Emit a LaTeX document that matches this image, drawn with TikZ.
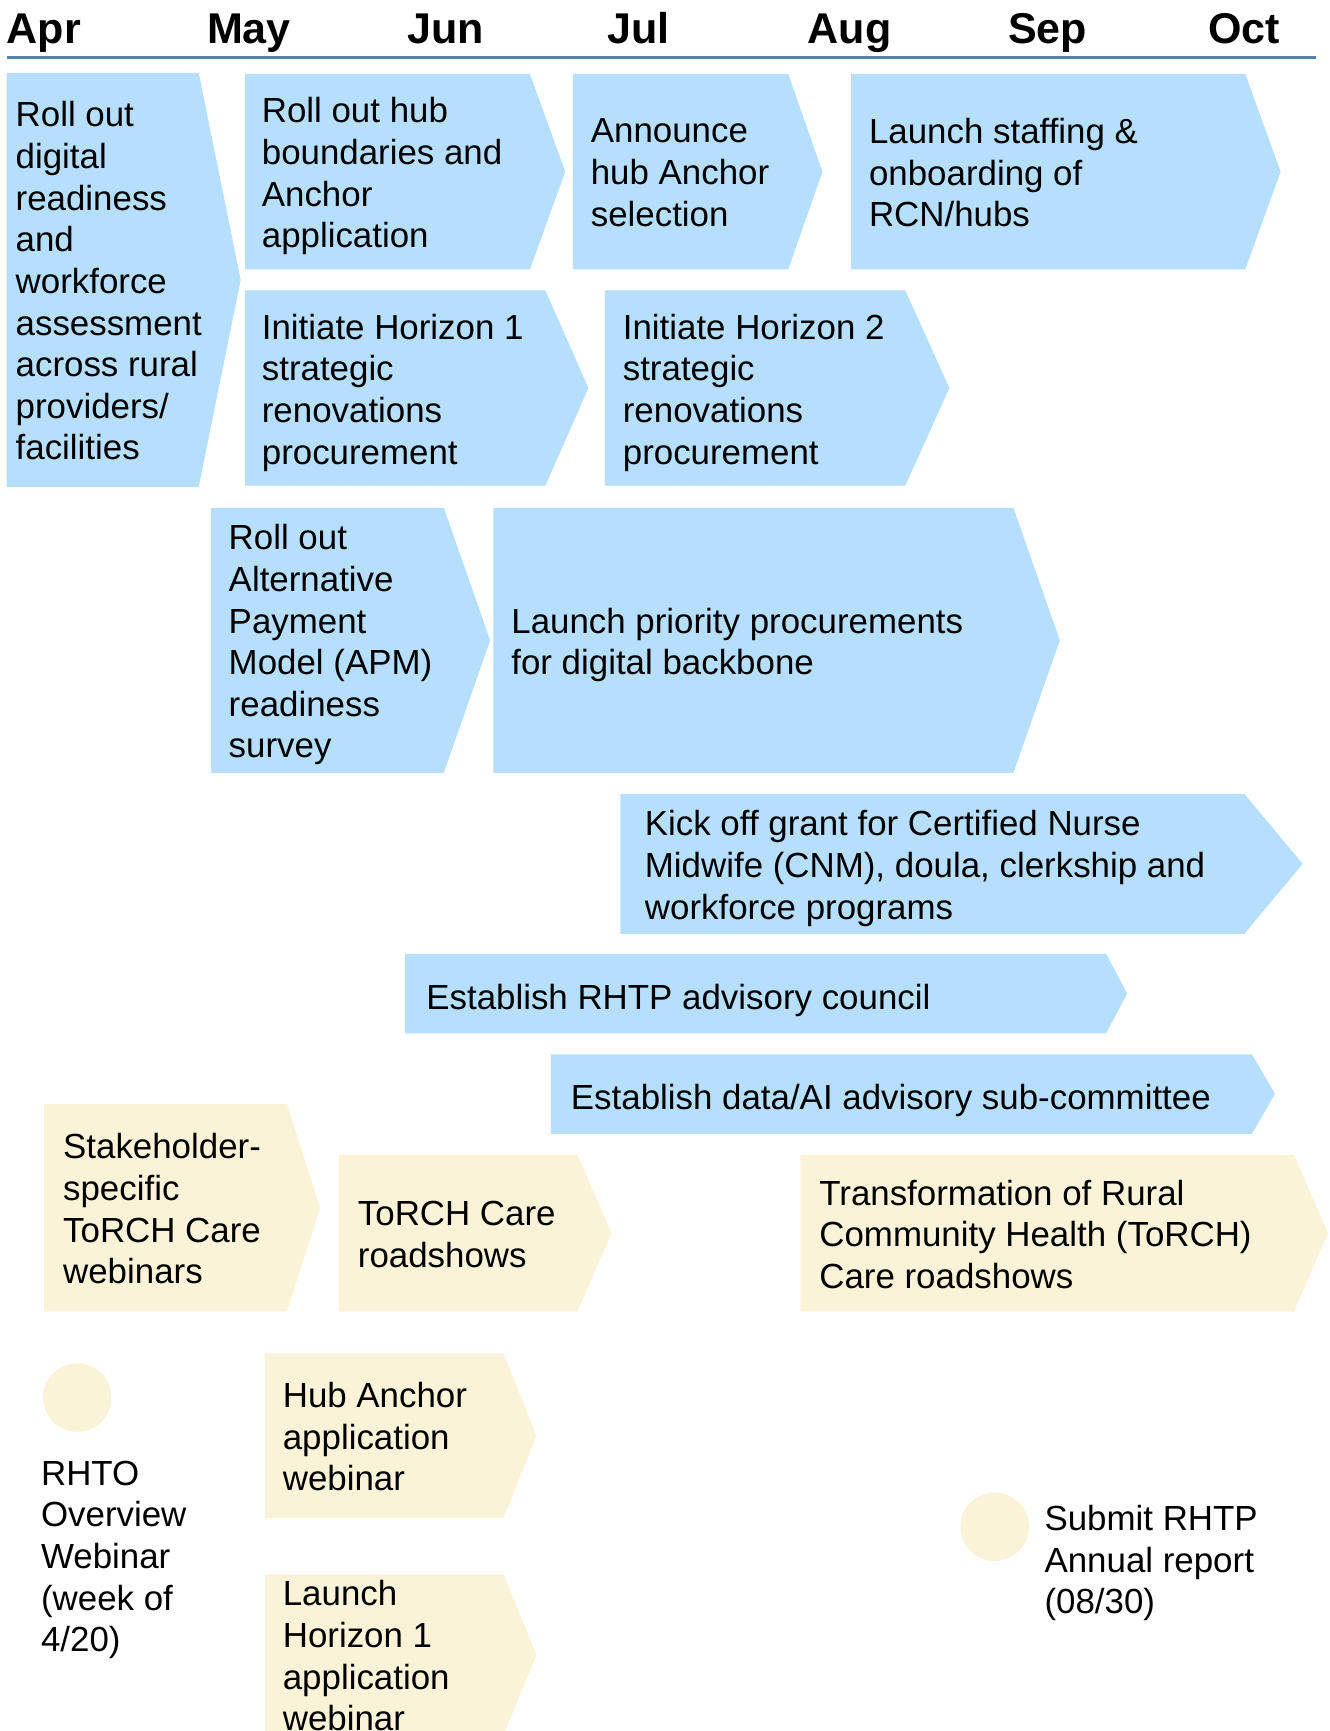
\documentclass[tikz,border=0pt]{standalone}
\usepackage{fontspec}
\setmainfont{Liberation Sans}
\usetikzlibrary{positioning}

\definecolor{taskblue}{RGB}{181,223,253}
\definecolor{eventyellow}{RGB}{251,243,216}
\definecolor{ruleblue}{RGB}{84,130,172}
\newcommand{\taskfont}{\fontsize{31.6}{37.7}\selectfont}
\newcommand{\monthfont}{\fontsize{39}{44}\selectfont\bfseries}

\begin{document}
\begin{tikzpicture}[
        x=1pt, y=-1pt,
        task/.style={anchor=west, inner sep=0pt, align=left, font=\taskfont, yshift=-6.5pt,
            execute at begin node=\strut, execute at end node=\strut},
        month/.style={anchor=base west, inner sep=0pt, font=\monthfont},
        bluebox/.style={fill=taskblue},
        yellowbox/.style={fill=eventyellow},
        eventdot/.style={circle, fill=eventyellow, minimum size=62pt, inner sep=0pt}
    ]
    \clip (0,0) rectangle (1204,1568);

    % Month header
    \foreach \m [count=\i from 0] in {Apr,May,Jun,Jul,Aug,Sep,Oct}
        \node[month] (m\i) at (6+181.4*\i,39) {\m};
    \draw[ruleblue, line width=2pt] (6,52) -- (1192,52);

    % Blue chevrons: left/top/right/tip/bottom
    \foreach \l/\t/\r/\p/\b in {6/66/180/218/441, 222/67/480/512/244, 519/67/714/745/244,
            771/67/1128/1160/244, 222/263/494/533/440, 548/263/820/860/440,
            191/460/402/444/700, 447/460/918/960/700, 562/719/1127/1180/846,
            367/864/1002/1021/936, 499/955/1134/1155/1027}
        \fill[bluebox] (\l,\t) -- (\r,\t) -- (\p,{(\t+\b)/2}) -- (\r,\b) -- (\l,\b) -- cycle;

    % Yellow chevrons
    \foreach \l/\t/\r/\p/\b in {40/1000/260/290/1188, 307/1046/523/554/1188,
            725/1046/1172/1203/1188, 240/1226/456/486/1375, 240/1426/456/486/1572}
        \fill[yellowbox] (\l,\t) -- (\r,\t) -- (\p,{(\t+\b)/2}) -- (\r,\b) -- (\l,\b) -- cycle;

    % Blue tasks
    \node[task] (readiness) at (14,253.5) {Roll out\\digital\\readiness\\and\\workforce\\assessment\\across rural\\providers/\\facilities};
    \node[task] (hubbounds) at (237,155.5) {Roll out hub\\boundaries and\\Anchor\\application};
    \node[task] (anchorsel) at (535,155.5) {Announce\\hub Anchor\\selection};
    \node[task] (staffing) at (787,155.5) {Launch staffing \&\\onboarding of\\RCN/hubs};
    \node[task] (horizon1) at (237,351.5) {Initiate Horizon 1\\strategic\\renovations\\procurement};
    \node[task] (horizon2) at (564,351.5) {Initiate Horizon 2\\strategic\\renovations\\procurement};
    \node[task] (apmsurvey) at (207,580) {Roll out\\Alternative\\Payment\\Model (APM)\\readiness\\survey};
    \node[task] (backbone) at (463,580) {Launch priority procurements\\for digital backbone};
    \node[task] (cnmgrant) at (584,782.5) {Kick off grant for Certified Nurse\\Midwife (CNM), doula, clerkship and\\workforce programs};
    \node[task] (council) at (386,900) {Establish RHTP advisory council};
    \node[task] (aicommittee) at (517,991) {Establish data/AI advisory sub-committee};

    % Yellow events
    \node[task] (webinars) at (57,1094) {Stakeholder-\\specific\\ToRCH Care\\webinars};
    \node[task] (roadshows) at (324,1117) {ToRCH Care\\roadshows};
    \node[task] (torch) at (742,1117) {Transformation of Rural\\Community Health (ToRCH)\\Care roadshows};
    \node[task] (hubwebinar) at (256,1300.5) {Hub Anchor\\application\\webinar};
    \node[task] (h1webinar) at (256,1499) {Launch\\Horizon 1\\application\\webinar};

    % Milestones
    \node[eventdot] (rhtodot) at (70,1266) {};
    \node[task] (rhto) at (37,1409) {RHTO\\Overview\\Webinar\\(week of\\4/20)};
    \node[eventdot] (reportdot) at (901,1383) {};
    \node[task] (report) at (946,1412) {Submit RHTP\\Annual report\\(08/30)};
\end{tikzpicture}
\end{document}
